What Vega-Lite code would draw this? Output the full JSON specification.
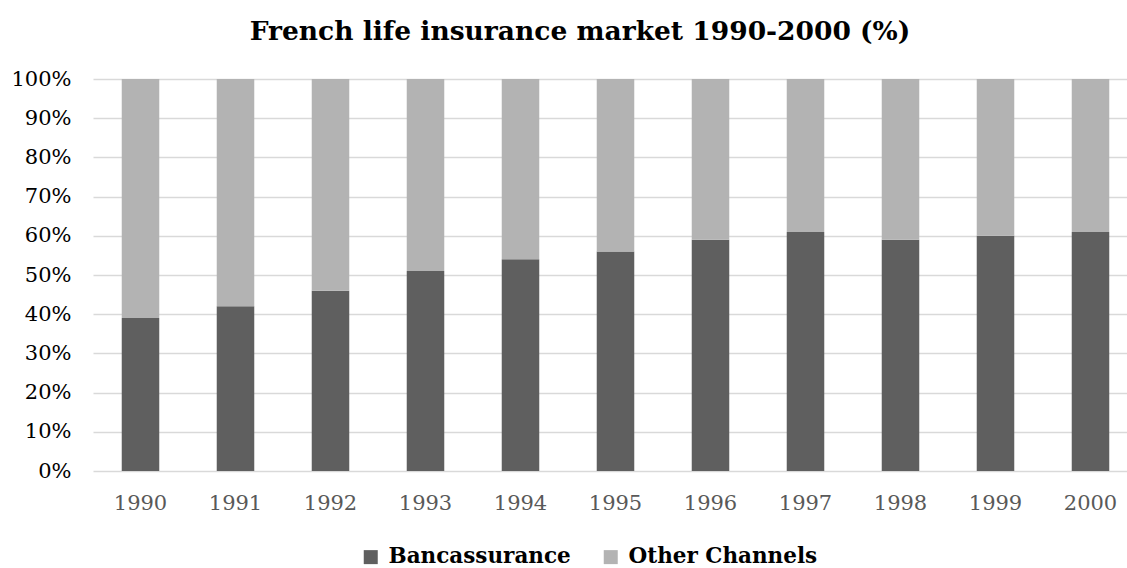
{
  "$schema": "https://vega.github.io/schema/vega-lite/v6.json",
  "autosize": "none",
  "width": 1034,
  "height": 392,
  "padding": {"left": 93, "top": 79, "right": 0, "bottom": 97},
  "background": "white",
  "title": {
    "text": "French life insurance market 1990-2000 (%)",
    "font": "DejaVu Serif",
    "fontSize": 26.5,
    "fontWeight": "bold",
    "color": "#000000",
    "anchor": "middle",
    "dx": -30,
    "offset": 23
  },
  "data": {
    "values": [
      {"year": "1990", "channel": "Bancassurance", "value": 39},
      {"year": "1991", "channel": "Bancassurance", "value": 42},
      {"year": "1992", "channel": "Bancassurance", "value": 46},
      {"year": "1993", "channel": "Bancassurance", "value": 51},
      {"year": "1994", "channel": "Bancassurance", "value": 54},
      {"year": "1995", "channel": "Bancassurance", "value": 56},
      {"year": "1996", "channel": "Bancassurance", "value": 59},
      {"year": "1997", "channel": "Bancassurance", "value": 61},
      {"year": "1998", "channel": "Bancassurance", "value": 59},
      {"year": "1999", "channel": "Bancassurance", "value": 60},
      {"year": "2000", "channel": "Bancassurance", "value": 61},
      {"year": "1990", "channel": "Other Channels", "value": 61},
      {"year": "1991", "channel": "Other Channels", "value": 58},
      {"year": "1992", "channel": "Other Channels", "value": 54},
      {"year": "1993", "channel": "Other Channels", "value": 49},
      {"year": "1994", "channel": "Other Channels", "value": 46},
      {"year": "1995", "channel": "Other Channels", "value": 44},
      {"year": "1996", "channel": "Other Channels", "value": 41},
      {"year": "1997", "channel": "Other Channels", "value": 39},
      {"year": "1998", "channel": "Other Channels", "value": 41},
      {"year": "1999", "channel": "Other Channels", "value": 40},
      {"year": "2000", "channel": "Other Channels", "value": 39}
    ]
  },
  "mark": {"type": "bar"},
  "encoding": {
    "x": {
      "field": "year",
      "type": "nominal",
      "sort": null,
      "scale": {"range": [0, 1045], "paddingInner": 0.605, "paddingOuter": 0.3025},
      "axis": {
        "title": null,
        "labelAngle": 0,
        "ticks": false,
        "domain": false,
        "labelPadding": 21,
        "labelFont": "DejaVu Serif",
        "labelFontSize": 21,
        "labelColor": "#595959"
      }
    },
    "y": {
      "field": "value",
      "type": "quantitative",
      "stack": "zero",
      "scale": {"domain": [0, 100], "nice": false},
      "axis": {
        "title": null,
        "values": [0, 10, 20, 30, 40, 50, 60, 70, 80, 90, 100],
        "labelExpr": "datum.value + '%'",
        "ticks": false,
        "domain": false,
        "labelPadding": 22,
        "labelFont": "DejaVu Serif",
        "labelFontSize": 21,
        "labelColor": "#000000",
        "grid": true,
        "gridColor": "#d9d9d9",
        "gridWidth": 1.5
      }
    },
    "color": {
      "field": "channel",
      "type": "nominal",
      "scale": {"domain": ["Bancassurance", "Other Channels"], "range": ["#5f5f5f", "#b3b3b3"]},
      "legend": {
        "title": null,
        "orient": "none",
        "direction": "horizontal",
        "legendX": 267,
        "legendY": 467,
        "symbolType": "square",
        "symbolSize": 196,
        "symbolStrokeWidth": 0,
        "symbolOpacity": 1,
        "labelOffset": 7,
        "columnPadding": 29,
        "labelFont": "DejaVu Serif",
        "labelFontSize": 21.5,
        "labelFontWeight": "bold",
        "labelColor": "#000000",
        "labelLimit": 400,
        "padding": 0
      }
    },
    "order": {"field": "channel", "sort": "ascending"}
  },
  "config": {"view": {"stroke": null}}
}
